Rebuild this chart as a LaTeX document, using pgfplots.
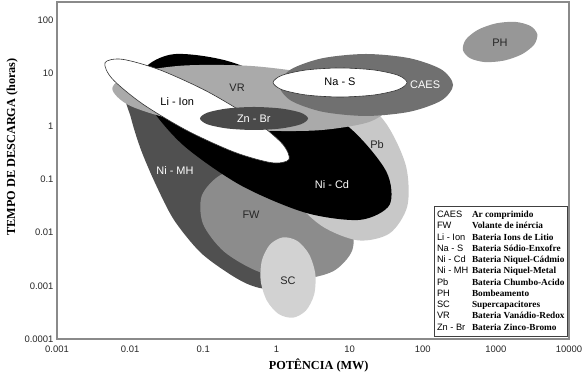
\documentclass[border=0pt]{standalone}
\usepackage{pgfplots}
\usepackage{pgfplotstable}
\pgfplotsset{compat=1.18}
\usepackage{fontspec}
\setmainfont{Liberation Serif}
\setsansfont{Liberation Sans}
\usepackage{array}
\definecolor{cNiMH}{HTML}{505050}
\definecolor{cFW}{HTML}{8C8C8C}
\definecolor{cPb}{HTML}{C8C8C8}
\definecolor{cSC}{HTML}{D2D2D2}
\definecolor{cVR}{HTML}{AAAAAA}
\definecolor{cCAES}{HTML}{707070}
\definecolor{cZnBr}{HTML}{4A4A4A}
\definecolor{cPH}{HTML}{979797}
\definecolor{axgray}{HTML}{8A8A8A}

% outlines of the regions: log10(power MW), log10(discharge time h)
\pgfplotstableread{
lx ly
-2.043 0.647
-1.523 1.024
-0.634 0.722
0.186 -0.068
0.623 -1.103
0.596 -2.043
0.295 -2.702
-0.088 -3.040
-0.361 -2.984
-0.662 -2.758
-1.045 -2.363
-1.400 -1.761
-1.646 -1.103
-1.851 -0.444
-1.988 0.158
}\tNiMH
\pgfplotstableread{
lx ly
1.036 -2.333
0.777 -2.724
0.312 -2.871
-0.235 -2.738
-0.716 -2.356
-1.004 -1.833
-1.020 -1.302
-0.760 -0.911
-0.295 -0.764
0.252 -0.897
0.733 -1.279
1.020 -1.804
}\tFW
\pgfplotstableread{
lx ly
1.550 -2.011
1.118 -2.145
0.608 -1.863
0.157 -1.242
-0.113 -0.446
-0.133 0.309
0.107 0.822
0.539 0.956
1.049 0.674
1.500 0.053
1.771 -0.743
1.790 -1.498
}\tPb
\pgfplotstableread{
lx ly
1.546 -1.477
1.139 -1.759
0.392 -1.622
-0.494 -1.104
-1.282 -0.344
-1.761 0.455
-1.803 1.078
-1.396 1.360
-0.649 1.223
0.237 0.706
1.025 -0.055
1.504 -0.854
}\tNiCd
\pgfplotstableread{
lx ly
0.226 -3.599
0.030 -3.530
-0.131 -3.276
-0.215 -2.907
-0.198 -2.519
-0.086 -2.220
0.092 -2.087
0.287 -2.156
0.448 -2.410
0.532 -2.779
0.515 -3.167
0.403 -3.466
}\tSC
\pgfplotstableread{
lx ly
1.522 0.354
1.254 0.077
0.555 -0.075
-0.391 -0.066
-1.329 0.105
-2.006 0.391
-2.244 0.715
-1.976 0.992
-1.277 1.144
-0.331 1.135
0.607 0.963
1.284 0.677
}\tVR
\pgfplotstableread{
lx ly
2.415 0.779
2.255 0.487
1.820 0.275
1.225 0.196
0.630 0.275
0.196 0.487
0.036 0.779
0.196 1.071
0.630 1.283
1.225 1.362
1.820 1.283
2.255 1.071
}\tCAES
\pgfplotstableread{
lx ly
1.786 0.826
1.663 0.690
1.328 0.590
0.870 0.553
0.412 0.590
0.077 0.690
-0.046 0.826
0.077 0.962
0.412 1.062
0.870 1.099
1.328 1.062
1.663 0.962
}\tNaS
\pgfplotstableread{
lx ly
0.172 -0.621
-0.066 -0.683
-0.577 -0.484
-1.225 -0.077
-1.835 0.427
-2.245 0.896
-2.343 1.200
-2.106 1.262
-1.594 1.063
-0.946 0.657
-0.336 0.152
0.074 -0.316
}\tLiIon
\pgfplotstableread{
lx ly
0.432 0.149
0.334 0.040
0.063 -0.039
-0.306 -0.068
-0.675 -0.039
-0.946 0.040
-1.045 0.149
-0.946 0.257
-0.675 0.336
-0.306 0.365
0.063 0.336
0.334 0.257
}\tZnBr
\pgfplotstableread{
lx ly
3.566 1.737
3.525 1.541
3.358 1.358
3.112 1.238
2.849 1.210
2.644 1.285
2.549 1.439
2.590 1.635
2.756 1.818
3.002 1.938
3.265 1.966
3.470 1.891
}\tPH

\begin{document}
\begin{tikzpicture}[lbl/.style={font=\sffamily\fontsize{11}{12}\selectfont}]
\begin{axis}[
  scale only axis, width=512bp, height=337bp,
  xmode=log, ymode=log,
  xmin=1e-3, xmax=1e4, ymin=1e-4, ymax=218.8,
  xtick={1e-3,1e-2,1e-1,1,10,100,1000,10000},
  xticklabels={0.001,0.01,0.1,1,10,100,1000,10000},
  ytick={1e-4,1e-3,1e-2,1e-1,1,10,100},
  yticklabels={0.0001,0.001,0.01,0.1,1,10,100},
  major tick length=0pt, minor tick length=0pt,
  xminorticks=false, yminorticks=false,
  axis line style={axgray, line width=1.2bp},
  tick label style={font=\sffamily\fontsize{9.5}{11}\selectfont, text=black!85},
  xticklabel style={yshift=-3bp},
  xlabel={POTÊNCIA (MW)},
  ylabel={TEMPO DE DESCARGA (horas)},
  label style={font=\bfseries\fontsize{12.3}{14}\selectfont},
  xlabel style={at={(ticklabel cs:0.511)}},
  ylabel style={at={(ticklabel cs:0.57)}, xshift=0bp},
  reg/.style={draw=none, mark=none, smooth cycle},
]
\addplot[reg, fill=cNiMH] table[x expr={10^(\thisrow{lx})}, y expr={10^(\thisrow{ly})}] {\tNiMH};
\addplot[reg, fill=cFW] table[x expr={10^(\thisrow{lx})}, y expr={10^(\thisrow{ly})}] {\tFW};
\addplot[reg, fill=cPb] table[x expr={10^(\thisrow{lx})}, y expr={10^(\thisrow{ly})}] {\tPb};
\addplot[reg, fill=black] table[x expr={10^(\thisrow{lx})}, y expr={10^(\thisrow{ly})}] {\tNiCd};
\addplot[reg, fill=cSC] table[x expr={10^(\thisrow{lx})}, y expr={10^(\thisrow{ly})}] {\tSC};
\addplot[reg, fill=cVR] table[x expr={10^(\thisrow{lx})}, y expr={10^(\thisrow{ly})}] {\tVR};
\addplot[reg, fill=cCAES] table[x expr={10^(\thisrow{lx})}, y expr={10^(\thisrow{ly})}] {\tCAES};
\addplot[reg, fill=white, draw=black!80, line width=0.6bp] table[x expr={10^(\thisrow{lx})}, y expr={10^(\thisrow{ly})}] {\tNaS};
\addplot[reg, fill=white, draw=black!80, line width=0.6bp] table[x expr={10^(\thisrow{lx})}, y expr={10^(\thisrow{ly})}] {\tLiIon};
\addplot[reg, fill=cZnBr] table[x expr={10^(\thisrow{lx})}, y expr={10^(\thisrow{ly})}] {\tZnBr};
\addplot[reg, fill=cPH] table[x expr={10^(\thisrow{lx})}, y expr={10^(\thisrow{ly})}] {\tPH};

\node[lbl, text=black!85] at (axis cs:1140,37) {PH};
\node[lbl, text=white] at (axis cs:108,6.0) {CAES};
\node[lbl, text=black] at (axis cs:7.4,6.85) {Na - S};
\node[lbl, text=black!85] at (axis cs:0.29,5.3) {VR};
\node[lbl, text=black] at (axis cs:0.044,2.9) {Li - Ion};
\node[lbl, text=white] at (axis cs:0.49,1.41) {Zn - Br};
\node[lbl, text=black!85] at (axis cs:23.7,0.45) {Pb};
\node[lbl, text=white] at (axis cs:0.041,0.15) {Ni - MH};
\node[lbl, text=white] at (axis cs:5.75,0.082) {Ni - Cd};
\node[lbl, text=black!85] at (axis cs:0.45,0.0215) {FW};
\node[lbl, text=black!85] at (axis cs:1.44,0.00123) {SC};

\node[draw=black!75, line width=0.8bp, fill=white, anchor=south east, inner sep=3bp]
  at (rel axis cs:0.998,0.006) {%
  \fontsize{9.3}{11.3}\selectfont
  \begin{tabular}{@{}>{\sffamily}p{35bp}@{}>{\bfseries}l@{}}
  CAES & Ar comprimido\\
  FW & Volante de inércia\\
  Li - Ion & Bateria Ions de Litio\\
  Na - S & Bateria Sódio-Enxofre\\
  Ni - Cd & Bateria Niquel-Cádmio\\
  Ni - MH & Bateria Niquel-Metal\\
  Pb & Bateria Chumbo-Acido\\
  PH & Bombeamento\\
  SC & Supercapacitores\\
  VR & Bateria Vanádio-Redox\\
  Zn - Br & Bateria Zinco-Bromo
  \end{tabular}};

\coordinate (SW) at (rel axis cs:0,0);
\coordinate (NE) at (rel axis cs:1,1);
\end{axis}
\pgfresetboundingbox
\path ([xshift=-57bp,yshift=-36bp]SW) rectangle ([xshift=17bp,yshift=2bp]NE);
\end{tikzpicture}
\end{document}
